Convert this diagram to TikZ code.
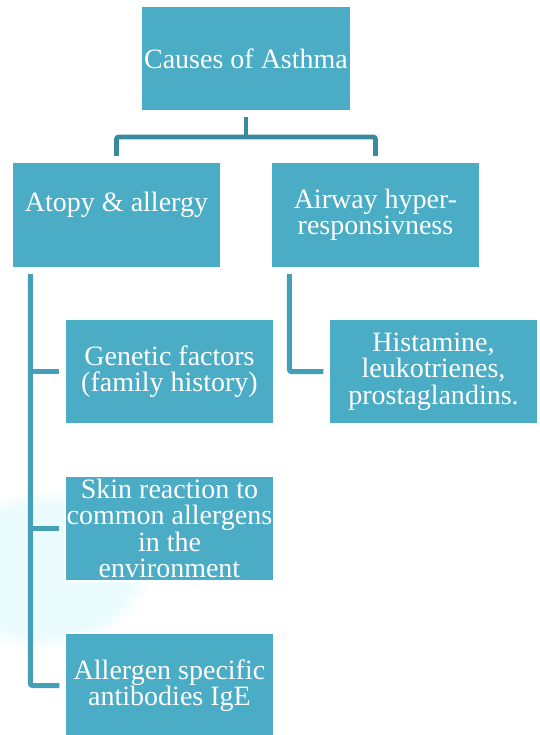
\documentclass[tikz,border=0pt]{standalone}
\usepackage{fontspec}
\setmainfont{Liberation Serif}
\usetikzlibrary{calc,fadings}
\definecolor{boxfill}{HTML}{4BACC6}
\definecolor{linecol}{HTML}{449FB8}
\definecolor{topline}{HTML}{3A8A9F}
\definecolor{haze}{HTML}{E2FBFD}
\tikzset{
  box/.style={rectangle, fill=boxfill, draw=white, line width=1.2pt,
    minimum width=209pt, minimum height=105pt, inner sep=0pt,
    text=white, align=center,
    font=\fontsize{28pt}{26.5pt}\selectfont},
  conn/.style={draw=linecol, line width=5pt, rounded corners=2pt},
  topconn/.style={draw=topline, line width=4.6pt, rounded corners=2pt}
}
\begin{document}
\begin{tikzpicture}[x=1pt,y=-1pt]
\useasboundingbox (0,0) rectangle (539,735);
\fill[white] (0,0) rectangle (539,735);
% faint background haze
\fill[haze, opacity=0.7, path fading=circle with fuzzy edge 20 percent] (-60,490) rectangle (150,650);

\node[box] (top) at (246,58.5) {Causes of Asthma};
\node[box] (atopy) at (116.5,215) {Atopy \& allergy\\ \phantom{x}};
\node[box] (airway) at (375.5,215) {Airway hyper-\\responsivness};
\node[box] (genetic) at (169.5,371.5) {Genetic factors\\(family history)};
\node[box] (skin) at (169.5,528.5) {Skin reaction to\\common allergens\\in the\\environment};
\node[box] (allergen) at (169.5,685.5) {Allergen specific\\antibodies IgE};
\node[box] (hist) at (433.5,371.5) {Histamine,\\leukotrienes,\\prostaglandins.};

% top connector
\coordinate (j) at (top.south |- 0,137);
\draw[topconn] ([yshift=-5pt]top.south) -- (j);
\draw[topconn] ([yshift=6pt]atopy.north) |- (j) -| ([yshift=6pt]airway.north);

% left connector
\coordinate (lv) at ([xshift=19pt,yshift=-6pt]atopy.south west);
\draw[conn] (lv) |- ([xshift=-5pt]allergen.west);
\draw[conn] (lv |- genetic.west) -- ([xshift=-5pt]genetic.west);
\draw[conn] (lv |- skin.west) -- ([xshift=-5pt]skin.west);

% right connector
\coordinate (rv) at ([xshift=19pt,yshift=-6pt]airway.south west);
\draw[conn] (rv) |- ([xshift=-5pt]hist.west);
\end{tikzpicture}
\end{document}
